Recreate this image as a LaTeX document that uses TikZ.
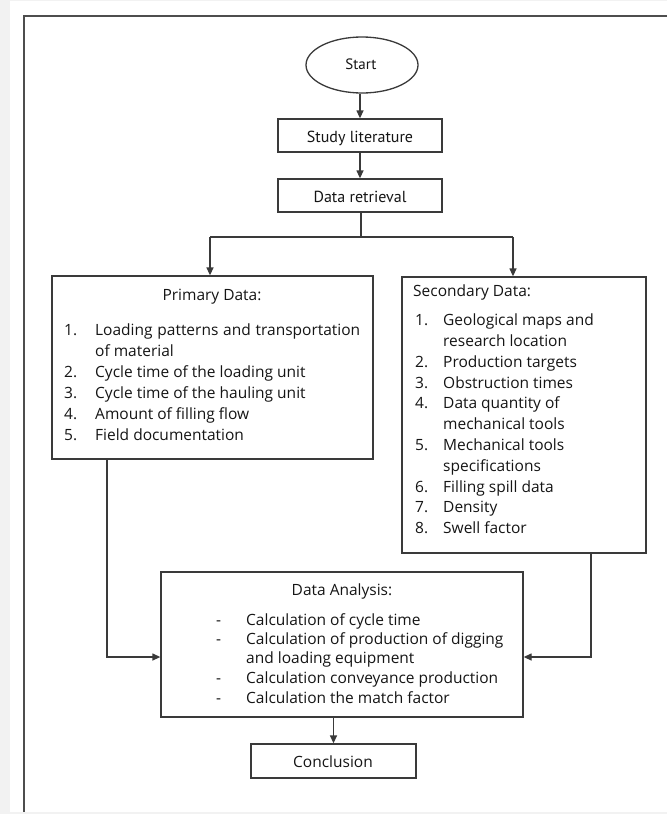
\documentclass[tikz,border=0pt]{standalone}
\usepackage{fontspec}
\setmainfont{Open Sans}
\newfontfamily\condfont{PT Sans}
\usetikzlibrary{arrows.meta,shapes.geometric}
\definecolor{bgray}{HTML}{F2F2F2}
\definecolor{lin}{HTML}{3A3A3A}
\definecolor{txt}{HTML}{151515}
\tikzset{
  box/.style={draw=lin, line width=1.3pt, rectangle, inner sep=0pt},
  conn/.style={draw=lin, line width=1.3pt, -{Triangle[length=8pt,width=7pt]}},
  plain/.style={draw=lin, line width=1.3pt},
  tx/.style={inner sep=0pt, anchor=base west, text=txt, font=\fontsize{15.5}{18}\selectfont},
  tc/.style={inner sep=0pt, anchor=base, text=txt, font=\fontsize{15.5}{18}\selectfont},
}
\begin{document}
\begin{tikzpicture}[x=1pt, y=-1pt]
\useasboundingbox (0,0) rectangle (667,814);
\fill[bgray] (0,0) rectangle (667,814);
\fill[white] (10,1) rectangle (667,812);
\draw[color=lin!90, line width=2pt] (667,15.5) -- (23.5,15.5) -- (23.5,812);

% nodes
\node[draw=lin, line width=1.3pt, ellipse, minimum width=112pt, minimum height=56pt, inner sep=0pt] (start) at (362,65) {};
\node[tc, font=\condfont\fontsize{15}{16}\selectfont] (starttxt) at (361,69) {Start};
\node[box, minimum width=164pt, minimum height=33pt] (study) at (360,135.5) {};
\node[tc, font=\condfont\fontsize{16}{18}\selectfont] (studytxt) at (360,142) {Study literature};
\node[box, minimum width=164pt, minimum height=33pt] (retr) at (360,195.5) {};
\node[tc, font=\condfont\fontsize{16}{18}\selectfont] (retrtxt) at (360,202) {Data retrieval};

\coordinate (split) at (361,237);
\coordinate (spl) at (210,237);
\coordinate (spr) at (513,237);

\node[box, minimum width=321pt, minimum height=183pt] (prim) at (212.5,367.5) {};
\node[box, minimum width=244pt, minimum height=276pt] (sec) at (524,415) {};
\node[box, minimum width=362pt, minimum height=145pt] (ana) at (342,644.5) {};
\node[box, minimum width=165pt, minimum height=34pt] (conc) at (333.5,761) {};

% texts: primary
\node[tc] (ptitle) at (212,300) {Primary Data:};
\foreach \i/\yy/\n/\t in {
 p1/335/1./{\makebox[265pt][s]{Loading patterns and transportation}},
 p2/356//{of material},
 p3/377/2./{Cycle time of the loading unit},
 p4/398/3./{Cycle time of the hauling unit},
 p5/419/4./{Amount of filling flow},
 p6/440/5./{Field documentation}}{
  \node[tx] (\i n) at (64,\yy) {\n};
  \node[tx] (\i t) at (95,\yy) {\t};
}
% secondary
\node[tx] (stitle) at (413,296) {Secondary Data:};
\foreach \i/\yy/\n/\t in {
 s1/325/1./{Geological maps and},
 s2/346//{research location},
 s3/367/2./{Production targets},
 s4/388/3./{Obstruction times},
 s5/408/4./{Data quantity of},
 s6/429//{mechanical tools},
 s7/450/5./{Mechanical tools},
 s8/471//{specifications},
 s9/492/6./{Filling spill data},
 s10/512/7./{Density},
 s11/533/8./{Swell factor}}{
  \node[tx] (\i n) at (415,\yy) {\n};
  \node[tx] (\i t) at (443,\yy) {\t};
}
% analysis
\node[tc] (atitle) at (342,595) {Data Analysis:};
\foreach \i/\yy/\n/\t in {
 a1/625/-/{Calculation of cycle time},
 a2/644/-/{Calculation of production of digging},
 a3/663//{and loading equipment},
 a4/683/-/{Calculation conveyance production},
 a5/703/-/{Calculation the match factor}}{
  \node[tx] (\i n) at (216,\yy) {\n};
  \node[tx] (\i t) at (246,\yy) {\t};
}
\node[tc, font=\fontsize{15.5}{18}\selectfont] (conctxt) at (333,767) {Conclusion};

% connectors
\draw[conn] (start.south -| study.north) -- (study.north);
\draw[conn] (study) -- (retr);
\draw[plain] (retr.south -| split) -- (split);
\draw[plain] (spl) -- (spr);
\draw[conn] (spl) -- (spl |- prim.north);
\draw[conn] (spr) -- (spr |- sec.north);
\coordinate (pl) at (107,657);
\coordinate (sl) at (591,657);
\draw[conn] (prim.south -| pl) -- (pl) -- (pl -| ana.west);
\draw[conn] (sec.south -| sl) -- (sl) -- (sl -| ana.east);
\draw[conn] (ana.south -| conc.north) -- (conc.north);
\end{tikzpicture}
\end{document}
